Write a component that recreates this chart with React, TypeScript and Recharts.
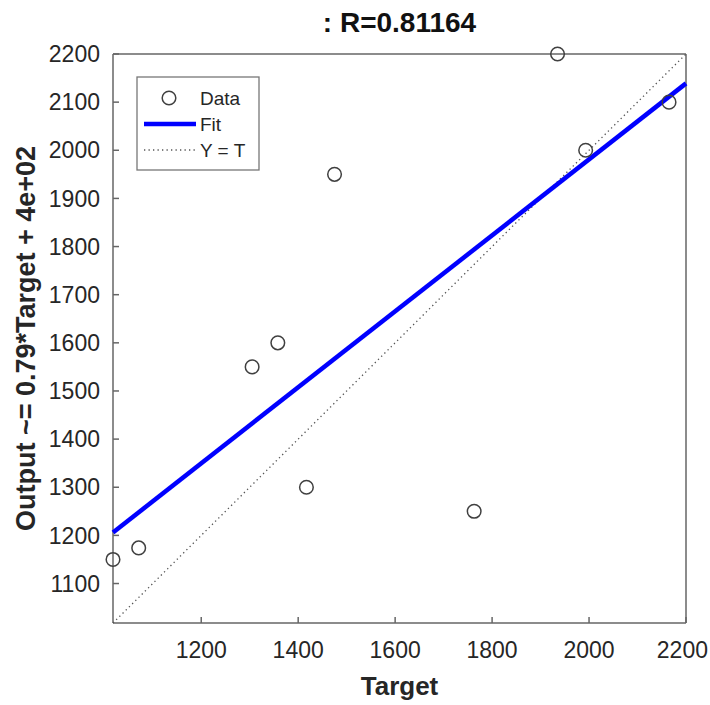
import React from 'react';
import { ScatterChart, Scatter, XAxis, YAxis } from 'recharts';

const targets = [1018, 1071, 1305, 1358, 1417, 1475, 1763, 1935, 1993, 2165];
const outputs = [1150, 1174, 1550, 1600, 1300, 1950, 1250, 2200, 2000, 2100];
const fitTargets = [1018, 2200];
const fitOutputs = [1206, 2139];
const identityValues = [1018, 2200];
const xTicks = [1200, 1400, 1600, 1800, 2000, 2200];
const yTicks = [1100, 1200, 1300, 1400, 1500, 1600, 1700, 1800, 1900, 2000, 2100, 2200];
const axisMin = 1018;
const axisMax = 2200;
const titleText = ': R=0.81164';
const xLabel = 'Target';
const yLabel = 'Output ~= 0.79*Target + 4e+02';
const legendLabels = ['Data', 'Fit', 'Y = T'];

const dataPoints = targets.map((t, i) => ({ t, o: outputs[i] }));
const fitPoints = fitTargets.map((t, i) => ({ t, o: fitOutputs[i] }));
const identityPoints = identityValues.map((v) => ({ t: v, o: v }));

const FONT = '"Liberation Sans", Arial, Helvetica, sans-serif';
const AX = '#666666';
const TXT = '#262626';

const Circle = (props: any) => (
  <circle cx={props.cx} cy={props.cy} r={6.8} fill="none" stroke="#404040" strokeWidth={1.5} />
);
const NoShape = () => <g />;

const XTick = (props: any) => {
  const { x, y, payload } = props;
  const isLast = payload.value === xTicks[xTicks.length - 1];
  return (
    <text
      x={isLast ? x + 22 : x}
      y={y}
      dy="0.71em"
      textAnchor={isLast ? 'end' : 'middle'}
      fill={TXT}
      fontSize={23}
      fontFamily={FONT}
    >
      {payload.value}
    </text>
  );
};

export default function App() {
  const tickStyle = { fill: TXT, fontSize: 23, fontFamily: FONT };
  return (
    <div style={{ position: 'absolute', left: 0, top: 0, width: 710, height: 705 }}>
      <ScatterChart width={710} height={705} margin={{ top: 53, left: 112, right: 23, bottom: 81 }}>
        <XAxis
          xAxisId={0}
          dataKey="t"
          type="number"
          domain={[axisMin, axisMax]}
          ticks={xTicks}
          interval={0}
          height={1}
          tickSize={-6}
          tickMargin={25}
          tick={XTick}
          axisLine={{ stroke: AX, strokeWidth: 1.5 }}
          tickLine={{ stroke: AX, strokeWidth: 1.5 }}
          label={{
            content: (p: any) => {
              const vb = p.viewBox;
              return (
                <text x={vb.x + vb.width / 2} y={vb.y + 72} textAnchor="middle" fontSize={26} fontWeight="bold" fontFamily={FONT} fill={TXT}>
                  {xLabel}
                </text>
              );
            },
          }}
        />
        <XAxis
          xAxisId="top"
          orientation="top"
          type="number"
          domain={[axisMin, axisMax]}
          ticks={xTicks}
          interval={0}
          height={1}
          tickSize={-6}
          tickFormatter={() => ''}
          axisLine={{ stroke: AX, strokeWidth: 1.5 }}
          tickLine={{ stroke: AX, strokeWidth: 1.5 }}
          label={{
            content: (p: any) => {
              const vb = p.viewBox;
              return (
                <text x={vb.x + vb.width / 2} y={vb.y - 21} textAnchor="middle" fontSize={28} fontWeight="bold" fontFamily={FONT} fill="#111">
                  {titleText}
                </text>
              );
            },
          }}
        />
        <YAxis
          yAxisId={0}
          dataKey="o"
          type="number"
          domain={[axisMin, axisMax]}
          ticks={yTicks}
          interval={0}
          width={1}
          tickSize={-6}
          tickMargin={19}
          tick={tickStyle}
          axisLine={{ stroke: AX, strokeWidth: 1.5 }}
          tickLine={{ stroke: AX, strokeWidth: 1.5 }}
          label={{
            content: (p: any) => {
              const vb = p.viewBox;
              const cx = vb.x - 86;
              const cy = vb.y + vb.height / 2;
              return (
                <text x={cx} y={cy} transform={`rotate(-90 ${cx} ${cy})`} textAnchor="middle" dominantBaseline="central" fontSize={27} fontWeight="bold" fontFamily={FONT} fill={TXT}>
                  {yLabel}
                </text>
              );
            },
          }}
        />
        <YAxis
          yAxisId="right"
          orientation="right"
          type="number"
          domain={[axisMin, axisMax]}
          ticks={yTicks}
          interval={0}
          width={1}
          tickSize={-6}
          tickFormatter={() => ''}
          axisLine={{ stroke: AX, strokeWidth: 1.5 }}
          tickLine={{ stroke: AX, strokeWidth: 1.5 }}
        />
        <Scatter
          data={identityPoints}
          xAxisId={0}
          yAxisId={0}
          line={{ stroke: '#555555', strokeWidth: 1.3, strokeDasharray: '1.3 3.2' }}
          shape={NoShape}
          isAnimationActive={false}
        />
        <Scatter
          data={fitPoints}
          xAxisId={0}
          yAxisId={0}
          line={{ stroke: '#0000FF', strokeWidth: 4.5 }}
          shape={NoShape}
          isAnimationActive={false}
        />
        <Scatter data={dataPoints} xAxisId={0} yAxisId={0} shape={Circle} isAnimationActive={false} />
      </ScatterChart>
      <svg style={{ position: 'absolute', left: 136, top: 76 }} width={124} height={95}>
        <rect x={1} y={1} width={122} height={93} fill="#ffffff" stroke="#777777" strokeWidth={1.3} />
        <circle cx={33} cy={22} r={6.8} fill="none" stroke="#404040" strokeWidth={1.5} />
        <line x1={8} y1={48} x2={60} y2={48} stroke="#0000FF" strokeWidth={4.5} />
        <line x1={8} y1={74} x2={60} y2={74} stroke="#555555" strokeWidth={1.3} strokeDasharray="1.3 3.2" />
        {legendLabels.map((s, i) => (
          <text key={s} x={64} y={22 + i * 26 + 7} fontSize={19} fontFamily={FONT} fill={TXT}>
            {s}
          </text>
        ))}
      </svg>
    </div>
  );
}
